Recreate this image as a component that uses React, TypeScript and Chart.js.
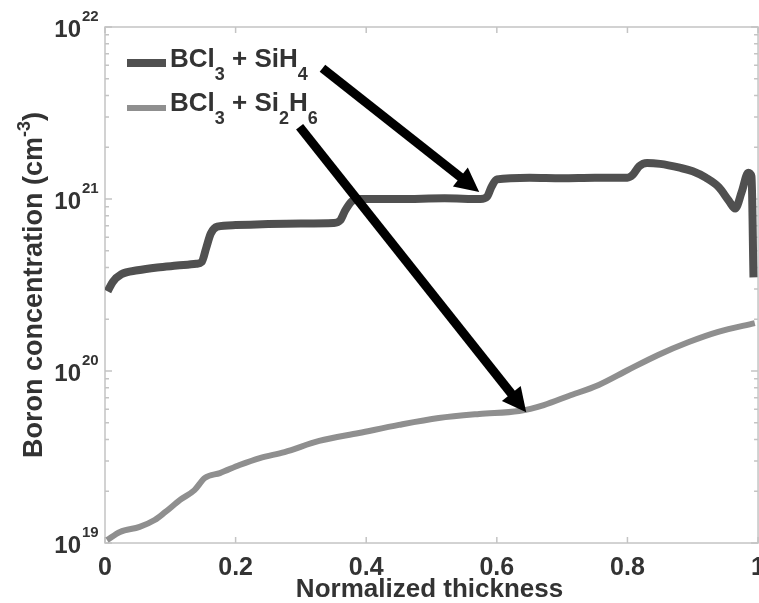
import React, { useEffect, useRef } from "react";
import { Chart, registerables } from "chart.js";

Chart.register(...registerables);

// ---------- data ----------
const SERIES_LABELS = ["BCl3 + SiH4", "BCl3 + Si2H6"];
const X_TITLE = "Normalized thickness";
const Y_TITLE_PARTS: [string, string][] = [["Boron concentration (cm", "n"], ["-3", "sup"], [")", "n"]];
const X_TICKS = [0, 0.2, 0.4, 0.6, 0.8, 1];
const Y_DECADES = [19, 20, 21, 22];

const sihX = [0.004, 0.012, 0.025, 0.05, 0.08, 0.11, 0.14, 0.148, 0.155, 0.162, 0.172, 0.2, 0.25, 0.3, 0.35, 0.36, 0.368, 0.378, 0.39, 0.45, 0.52, 0.575, 0.585, 0.592, 0.6, 0.65, 0.7, 0.75, 0.8, 0.808, 0.818, 0.83, 0.85, 0.88, 0.9, 0.92, 0.94, 0.955, 0.965, 0.975, 0.985, 0.99, 0.993];
const sihY = [2.9e20, 3.3e20, 3.65e20, 3.85e20, 4.0e20, 4.1e20, 4.2e20, 4.3e20, 5.2e20, 6.3e20, 6.9e20, 7.05e20, 7.15e20, 7.2e20, 7.25e20, 7.5e20, 8.6e20, 9.7e20, 1.0e21, 1.0e21, 1.01e21, 1.0e21, 1.03e21, 1.18e21, 1.3e21, 1.33e21, 1.32e21, 1.33e21, 1.33e21, 1.38e21, 1.55e21, 1.62e21, 1.6e21, 1.52e21, 1.45e21, 1.33e21, 1.17e21, 9.8e20, 8.8e20, 1.1e21, 1.42e21, 1.35e21, 3.5e20];

const si2X = [0.003, 0.023, 0.053, 0.076, 0.092, 0.115, 0.137, 0.153, 0.176, 0.206, 0.237, 0.275, 0.328, 0.389, 0.45, 0.511, 0.573, 0.634, 0.672, 0.71, 0.756, 0.8, 0.847, 0.893, 0.939, 0.995];
const si2Y = [1.04e19, 1.16e19, 1.24e19, 1.36e19, 1.51e19, 1.78e19, 2.03e19, 2.39e19, 2.55e19, 2.84e19, 3.12e19, 3.38e19, 3.92e19, 4.36e19, 4.86e19, 5.33e19, 5.63e19, 5.85e19, 6.34e19, 7.16e19, 8.3e19, 1.01e20, 1.24e20, 1.47e20, 1.69e20, 1.9e20];

const ARROW_FROM_X = [0.333, 0.298];
const ARROW_FROM_Y = [5.76e21, 2.63e21];
const ARROW_TO_X = [0.573, 0.645];
const ARROW_TO_Y = [1.1e21, 5.75e19];

// ---------- style ----------
const FONT = "'Liberation Sans', Arial, sans-serif";
const TEXT = "#333333";
const COLORS = ["#505050", "#8f8f8f"];
const WIDTHS = [8, 6];

function chemParts(label: string): [string, string][] {
  return label.split(/(\d+)/).filter((s) => s.length > 0).map((s) => [s, /^\d+$/.test(s) ? "sub" : "n"] as [string, string]);
}

function drawRich(ctx: CanvasRenderingContext2D, parts: [string, string][], x: number, y: number, size: number, small: number, subOff: number, supOff: number, dry = false) {
  let cx = x;
  for (const [t, k] of parts) {
    const s = k === "n" ? size : small;
    ctx.font = `bold ${s}px ${FONT}`;
    const dy = k === "sub" ? subOff : k === "sup" ? -supOff : 0;
    if (!dry) ctx.fillText(t, cx, y + dy);
    cx += ctx.measureText(t).width;
  }
  return cx - x;
}

function drawArrow(ctx: CanvasRenderingContext2D, x1: number, y1: number, x2: number, y2: number) {
  const ang = Math.atan2(y2 - y1, x2 - x1);
  const hl = 24, hw = 12;
  const bx = x2 - hl * Math.cos(ang), by = y2 - hl * Math.sin(ang);
  ctx.strokeStyle = "#000";
  ctx.fillStyle = "#000";
  ctx.lineWidth = 9;
  ctx.lineCap = "butt";
  ctx.beginPath();
  ctx.moveTo(x1, y1);
  ctx.lineTo(bx + 2 * Math.cos(ang), by + 2 * Math.sin(ang));
  ctx.stroke();
  ctx.beginPath();
  ctx.moveTo(x2, y2);
  ctx.lineTo(bx + hw * Math.sin(ang), by - hw * Math.cos(ang));
  ctx.lineTo(bx - hw * Math.sin(ang), by + hw * Math.cos(ang));
  ctx.closePath();
  ctx.fill();
}

const decor = {
  id: "decor",
  beforeDatasetsDraw(chart: any) {
    const { ctx, chartArea: a, scales } = chart;
    const xs = scales.x, ys = scales.y;
    ctx.save();
    ctx.strokeStyle = "#c4c4c4";
    ctx.lineWidth = 1.5;
    ctx.strokeRect(a.left, a.top, a.right - a.left, a.bottom - a.top);
    ctx.beginPath();
    X_TICKS.forEach((v) => {
      const p = xs.getPixelForValue(v);
      ctx.moveTo(p, a.bottom); ctx.lineTo(p, a.bottom - 6);
      ctx.moveTo(p, a.top); ctx.lineTo(p, a.top + 6);
    });
    Y_DECADES.forEach((d) => {
      for (let m = 1; m <= 9; m++) {
        if (d === Y_DECADES[Y_DECADES.length - 1] && m > 1) break;
        const p = ys.getPixelForValue(m * Math.pow(10, d));
        const len = m === 1 ? 7 : 4;
        ctx.moveTo(a.left, p); ctx.lineTo(a.left + len, p);
        ctx.moveTo(a.right, p); ctx.lineTo(a.right - len, p);
      }
    });
    ctx.stroke();
    ctx.restore();
  },
  afterDraw(chart: any) {
    const { ctx, chartArea: a, scales } = chart;
    const xs = scales.x, ys = scales.y;
    ctx.save();
    ctx.fillStyle = TEXT;
    ctx.textBaseline = "alphabetic";
    // y tick labels 10^n
    Y_DECADES.forEach((d) => {
      const p = ys.getPixelForValue(Math.pow(10, d));
      ctx.font = `bold 24px ${FONT}`;
      ctx.textAlign = "right";
      ctx.fillText("10", 81, p + 9.5);
      ctx.font = `bold 15px ${FONT}`;
      ctx.textAlign = "left";
      ctx.fillText(String(d), 82, p - 6);
    });
    // x title
    ctx.font = `bold 26px ${FONT}`;
    ctx.textAlign = "center";
    ctx.fillText(X_TITLE, (a.left + a.right) / 2 - 2, 597);
    // y title
    ctx.textAlign = "left";
    ctx.save();
    ctx.translate(42, (a.top + a.bottom) / 2);
    ctx.rotate(-Math.PI / 2);
    const w = drawRich(ctx, Y_TITLE_PARTS, 0, 0, 27, 18, 0, 12, true);
    drawRich(ctx, Y_TITLE_PARTS, -w / 2, 0, 27, 18, 0, 12);
    ctx.restore();
    // legend
    const legY = [63, 108];
    const baseY = [67, 111];
    SERIES_LABELS.forEach((lab, i) => {
      ctx.strokeStyle = COLORS[i];
      ctx.lineWidth = WIDTHS[i];
      ctx.beginPath();
      ctx.moveTo(127, legY[i]);
      ctx.lineTo(166, legY[i]);
      ctx.stroke();
      ctx.fillStyle = TEXT;
      drawRich(ctx, chemParts(lab), 170, baseY[i], 26, 18, 13, 0);
    });
    // arrows
    ARROW_FROM_X.forEach((fx, i) => {
      drawArrow(ctx, xs.getPixelForValue(fx), ys.getPixelForValue(ARROW_FROM_Y[i]), xs.getPixelForValue(ARROW_TO_X[i]), ys.getPixelForValue(ARROW_TO_Y[i]));
    });
    ctx.restore();
  },
};

export default function App() {
  const ref = useRef<HTMLCanvasElement>(null);
  useEffect(() => {
    if (!ref.current) return;
    const mk = (xsArr: number[], ysArr: number[]) => xsArr.map((x, i) => ({ x, y: ysArr[i] }));
    const chart = new Chart(ref.current, {
      type: "line",
      data: {
        datasets: [
          { label: SERIES_LABELS[0], data: mk(sihX, sihY), borderColor: COLORS[0], borderWidth: WIDTHS[0], pointRadius: 0, cubicInterpolationMode: "monotone", fill: false },
          { label: SERIES_LABELS[1], data: mk(si2X, si2Y), borderColor: COLORS[1], borderWidth: WIDTHS[1], pointRadius: 0, cubicInterpolationMode: "monotone", fill: false },
        ],
      },
      options: {
        responsive: false,
        animation: false,
        events: [],
        layout: { padding: { top: 27, right: 14, left: 0, bottom: 0 } },
        plugins: { legend: { display: false }, tooltip: { enabled: false } },
        scales: {
          x: {
            type: "linear",
            min: 0,
            max: 1,
            grid: { display: false, drawTicks: false },
            border: { display: false },
            ticks: {
              stepSize: 0.2,
              maxRotation: 0,
              autoSkip: false,
              padding: 10,
              color: TEXT,
              font: { family: FONT, size: 25, weight: "bold" },
              callback: (v: any) => String(Number(Number(v).toFixed(1))),
            },
            afterFit: (s: any) => { s.height = 60; },
          },
          y: {
            type: "logarithmic",
            min: 1e19,
            max: 1e22,
            grid: { display: false, drawTicks: false },
            border: { display: false },
            ticks: { display: false },
            afterFit: (s: any) => { s.width = 105; },
          },
        },
      },
      plugins: [decor],
    } as any);
    return () => chart.destroy();
  }, []);
  return (
    <div style={{ position: "fixed", left: 0, top: 0, width: 759, height: 603, overflow: "hidden", background: "#fff" }}>
      <canvas ref={ref} width={775} height={603} style={{ display: "block", width: 775, height: 603 }} />
    </div>
  );
}
